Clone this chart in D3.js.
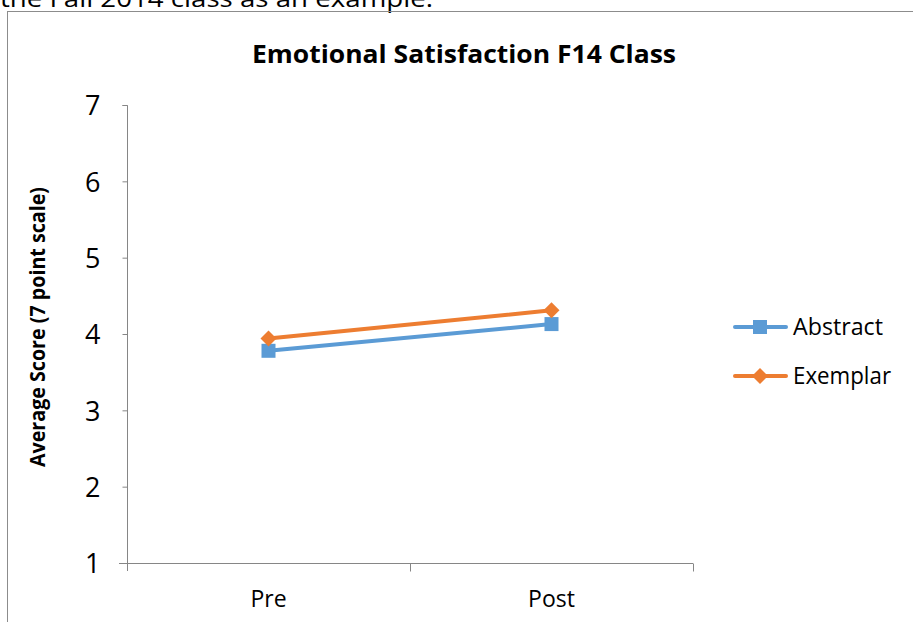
<!DOCTYPE html>
<html>
<head>
<meta charset="utf-8">
<script src="https://cdn.jsdelivr.net/npm/d3@7"></script>
<style>
  html, body { margin: 0; padding: 0; background: #fff; }
  svg { display: block; }
  text { font-family: "Open Sans", Lato, sans-serif; fill: #000; }
</style>
</head>
<body>
<svg id="chart" width="913" height="622"></svg>
<script>
// Chart data
const categories = ["Pre", "Post"];
const seriesNames = ["Abstract", "Exemplar"];
const abstractValues = [3.78, 4.13];
const exemplarValues = [3.94, 4.31];
const yTicks = [1, 2, 3, 4, 5, 6, 7];
const chartTitle = "Emotional Satisfaction F14 Class";
const yAxisTitle = "Average Score (7 point scale)";
const precedingText = "the Fall 2014 class as an example.";

const colors = { Abstract: "#5B9BD5", Exemplar: "#ED7D31" };
const axisColor = "#868686";

const svg = d3.select("#chart");

// Text of the page above the chart
svg.append("text")
  .attr("x", 0).attr("y", 7)
  .attr("font-size", 24)
  .attr("textLength", 433)
  .attr("lengthAdjust", "spacingAndGlyphs")
  .text(precedingText);

// Chart frame
svg.append("rect")
  .attr("x", 7.5).attr("y", 11.5)
  .attr("width", 920).attr("height", 640)
  .attr("fill", "none")
  .attr("stroke", "#8c8c8c")
  .attr("stroke-width", 1);

const plot = { left: 127, right: 693, top: 105, bottom: 563 };

const x = d3.scaleBand().domain(categories).range([plot.left, plot.right]);
const y = d3.scaleLinear().domain([1, 7]).range([plot.bottom, plot.top]);

// Title
svg.append("text")
  .attr("x", 252).attr("y", 63)
  .attr("font-size", 25.5)
  .attr("font-weight", "bold")
  .attr("textLength", 424)
  .attr("lengthAdjust", "spacingAndGlyphs")
  .text(chartTitle);

// Y axis
const yAxis = svg.append("g")
  .attr("transform", `translate(${plot.left + 0.5},0)`)
  .call(d3.axisLeft(y).tickValues(yTicks).tickSize(5).tickPadding(22).tickFormat(d3.format("d")));
yAxis.select(".domain").attr("stroke", axisColor).attr("d", `M-5,${plot.top + 0.5}H0V${plot.bottom + 8}`);
yAxis.selectAll(".tick line").attr("stroke", axisColor);
yAxis.selectAll(".tick text")
  .attr("font-size", 27)
  .attr("font-family", "'Open Sans', Lato, sans-serif")
  .attr("fill", "#000")
  .attr("dy", "0.36em");

// X axis
const xAxis = svg.append("g")
  .attr("transform", `translate(0,${plot.bottom + 0.5})`);
xAxis.append("line")
  .attr("x1", plot.left - 8).attr("x2", plot.right)
  .attr("stroke", axisColor).attr("stroke-width", 1);
const xEdges = [plot.left, ...categories.map(c => x(c) + x.bandwidth())];
xAxis.selectAll("line.tick")
  .data(xEdges.slice(1))
  .join("line")
  .attr("class", "tick")
  .attr("x1", d => Math.round(d) + 0.5).attr("x2", d => Math.round(d) + 0.5)
  .attr("y1", 0).attr("y2", 8)
  .attr("stroke", axisColor);
xAxis.selectAll("text")
  .data(categories)
  .join("text")
  .attr("x", d => x(d) + x.bandwidth() / 2)
  .attr("y", 43)
  .attr("text-anchor", "middle")
  .attr("font-size", 23)
  .text(d => d);

// Y axis title
svg.append("text")
  .attr("transform", `translate(45,327) rotate(-90)`)
  .attr("text-anchor", "middle")
  .attr("font-size", 21.5)
  .attr("font-weight", "bold")
  .attr("textLength", 280)
  .attr("lengthAdjust", "spacingAndGlyphs")
  .text(yAxisTitle);

// Series lines and markers
const series = [
  { name: "Abstract", values: abstractValues, marker: "square" },
  { name: "Exemplar", values: exemplarValues, marker: "diamond" }
];

const line = d3.line()
  .x((d, i) => x(categories[i]) + x.bandwidth() / 2)
  .y(d => y(d));

function drawMarker(g, type, cx, cy, color) {
  if (type === "square") {
    g.append("rect")
      .attr("x", cx - 7).attr("y", cy - 7)
      .attr("width", 14).attr("height", 14)
      .attr("fill", color);
  } else {
    const r = 8;
    g.append("path")
      .attr("d", `M${cx},${cy - r}L${cx + r},${cy}L${cx},${cy + r}L${cx - r},${cy}Z`)
      .attr("fill", color);
  }
}

series.forEach(s => {
  const g = svg.append("g");
  g.append("path")
    .attr("d", line(s.values))
    .attr("fill", "none")
    .attr("stroke", colors[s.name])
    .attr("stroke-width", 4)
    .attr("stroke-linecap", "round");
  s.values.forEach((v, i) => {
    drawMarker(g, s.marker, x(categories[i]) + x.bandwidth() / 2, y(v), colors[s.name]);
  });
});

// Legend
const legendWidths = { Abstract: 90, Exemplar: 98 };
const legend = svg.append("g");
series.forEach((s, i) => {
  const ly = 327 + i * 49;
  const lg = legend.append("g");
  lg.append("line")
    .attr("x1", 735).attr("x2", 786)
    .attr("y1", ly).attr("y2", ly)
    .attr("stroke", colors[s.name])
    .attr("stroke-width", 4)
    .attr("stroke-linecap", "round");
  drawMarker(lg, s.marker, 760, ly, colors[s.name]);
  lg.append("text")
    .attr("x", 793).attr("y", ly + 8)
    .attr("font-size", 23)
    .attr("textLength", legendWidths[s.name])
    .attr("lengthAdjust", "spacingAndGlyphs")
    .text(s.name);
});
</script>
</body>
</html>
